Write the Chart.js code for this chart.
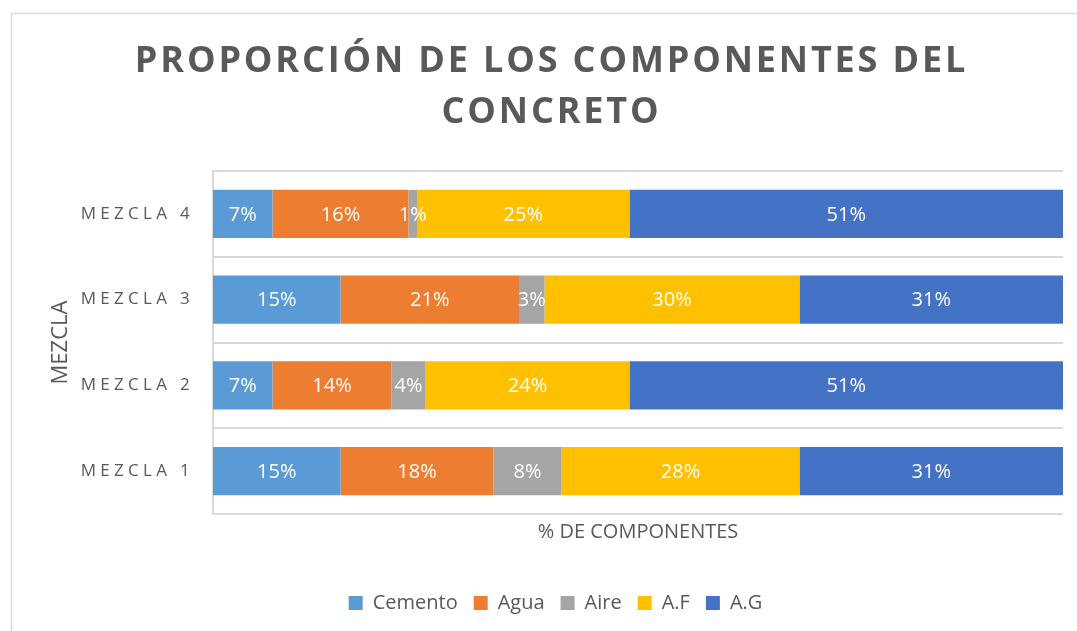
<!DOCTYPE html>
<html>
<head>
<meta charset="utf-8">
<script src="https://cdn.jsdelivr.net/npm/chart.js@4.4.0/dist/chart.umd.min.js"></script>
<style>
  html, body { margin: 0; padding: 0; background: #fff; }
  #wrap { width: 1077px; height: 631px; }
</style>
</head>
<body>
<div id="wrap"><canvas id="mezclaChart"></canvas></div>
<script>
const mezclas = ["MEZCLA 1", "MEZCLA 2", "MEZCLA 3", "MEZCLA 4"];
const cemento = [15, 7, 15, 7];
const agua = [18, 14, 21, 16];
const aire = [8, 4, 3, 1];
const aFino = [28, 24, 30, 25];
const aGrueso = [31, 51, 31, 51];
const titleLines = ["PROPORCIÓN DE LOS COMPONENTES DEL", "CONCRETO"];

const gris = "#595959";
const fuente = "'Open Sans', sans-serif";

// fondo y marco del grafico
const framePlugin = {
  id: "frame",
  beforeDraw(chart) {
    let ctx = chart.ctx;
    ctx.save();
    ctx.fillStyle = "#fff";
    ctx.fillRect(0, 0, chart.width, chart.height);
    ctx.strokeStyle = "#d9d9d9";
    ctx.lineWidth = 1.5;
    ctx.strokeRect(11.5, 13.5, chart.width + 20, chart.height + 20);
    ctx.restore();
  },
};

// titulo con espaciado de letras
const titlePlugin = {
  id: "bigTitle",
  afterDraw(chart) {
    let ctx = chart.ctx;
    ctx.save();
    ctx.fillStyle = gris;
    ctx.font = "bold 36px " + fuente;
    ctx.letterSpacing = "2.85px";
    ctx.textAlign = "center";
    ctx.textBaseline = "middle";
    let cx = chart.width / 2 + 13;
    ctx.fillText(titleLines[0], cx, 62);
    ctx.fillText(titleLines[1], cx, 113);
    ctx.restore();
  },
};

// etiquetas del eje y (MEZCLA n) espaciadas
const yLabelsPlugin = {
  id: "yLabels",
  afterDraw(chart) {
    let ctx = chart.ctx;
    let scale = chart.scales.y;
    ctx.save();
    ctx.fillStyle = gris;
    ctx.font = "17px " + fuente;
    ctx.letterSpacing = "4.3px";
    ctx.textAlign = "right";
    ctx.textBaseline = "middle";
    mezclas.forEach((lbl, i) => {
      ctx.fillText(lbl, scale.right - 19, scale.getPixelForValue(i));
    });
    ctx.restore();
  },
};

// porcentajes dentro de las barras
const dataLabelsPlugin = {
  id: "dataLabels",
  afterDatasetsDraw(chart) {
    let ctx = chart.ctx;
    ctx.save();
    ctx.fillStyle = "#fff";
    ctx.font = "20px " + fuente;
    ctx.textAlign = "center";
    ctx.textBaseline = "middle";
    chart.data.datasets.forEach((ds, d) => {
      let meta = chart.getDatasetMeta(d);
      meta.data.forEach((bar, i) => {
        let p = bar.getCenterPoint();
        ctx.fillText(ds.data[i] + "%", p.x, p.y + 1);
      });
    });
    ctx.restore();
  },
};

let chart_Data = {
  labels: mezclas,
  datasets: [
    { label: "Cemento", data: cemento, backgroundColor: "#5B9BD5" },
    { label: "Agua", data: agua, backgroundColor: "#ED7D31" },
    { label: "Aire", data: aire, backgroundColor: "#A5A5A5" },
    { label: "A.F", data: aFino, backgroundColor: "#FFC000" },
    { label: "A.G", data: aGrueso, backgroundColor: "#4472C4" },
  ],
};

let options = {
  indexAxis: "y",
  responsive: true,
  maintainAspectRatio: false,
  animation: false,
  datasets: {
    bar: { barPercentage: 0.56, categoryPercentage: 1, borderWidth: 0 },
  },
  layout: { padding: { top: 171, left: 48, right: 14, bottom: 8 } },
  scales: {
    x: {
      stacked: true,
      min: 0,
      max: 100,
      grid: { display: false },
      border: { display: false },
      ticks: { display: false },
      title: {
        display: true,
        text: "% DE COMPONENTES",
        color: gris,
        font: { family: fuente, size: 20, lineHeight: 1 },
        padding: { top: 0, bottom: 35 },
      },
    },
    y: {
      stacked: true,
      reverse: true,
      grid: { offset: true, color: "#d9d9d9", lineWidth: 2, drawTicks: false },
      border: { color: "#d9d9d9", width: 2 },
      ticks: { display: false },
      title: {
        display: true,
        text: "MEZCLA",
        color: gris,
        font: { family: fuente, size: 22 },
        padding: 0,
      },
      afterFit(scale) {
        scale.width = 165;
      },
    },
  },
  plugins: {
    tooltip: { enabled: false },
    legend: {
      position: "bottom",
      labels: {
        color: gris,
        font: { family: fuente, size: 20 },
        boxWidth: 14,
        boxHeight: 14,
        padding: 16,
      },
    },
  },
};

var ctx = document.getElementById("mezclaChart").getContext("2d");
var myChart = new Chart(ctx, {
  type: "bar",
  data: chart_Data,
  options: options,
  plugins: [framePlugin, titlePlugin, yLabelsPlugin, dataLabelsPlugin],
});
</script>
</body>
</html>
